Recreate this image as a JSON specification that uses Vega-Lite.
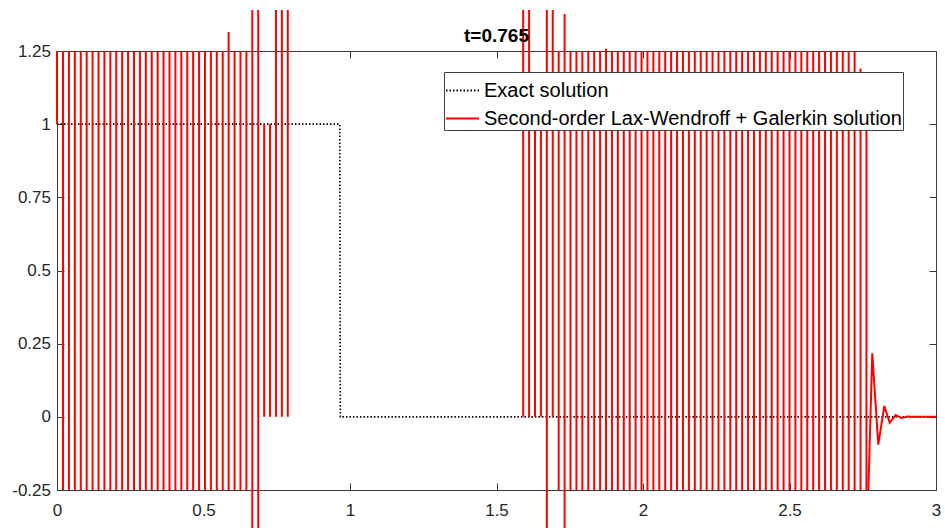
{
  "$schema": "https://vega.github.io/schema/vega-lite/v6.json",
  "width": 879,
  "height": 439,
  "autosize": "none",
  "padding": {"left": 57, "top": 51, "right": 9, "bottom": 38},
  "background": "white",
  "title": {"text": "t=0.765", "frame": "group", "anchor": "middle", "offset": -51.7, "baseline": "alphabetic", "font": "Liberation Sans", "fontSize": 19, "fontWeight": "bold", "color": "#000000"},
  "datasets": {
    "exact": [
      {"x": 0, "y": 1, "series": "Exact solution"},
      {"x": 0.965, "y": 1, "series": "Exact solution"},
      {"x": 0.967, "y": 0, "series": "Exact solution"},
      {"x": 3, "y": 0, "series": "Exact solution"}
    ],
    "tail": [
      {"x": 2.7626, "y": -0.48, "series": "Second-order Lax-Wendroff + Galerkin solution"},
      {"x": 2.7825, "y": 0.217, "series": "Second-order Lax-Wendroff + Galerkin solution"},
      {"x": 2.803, "y": -0.095, "series": "Second-order Lax-Wendroff + Galerkin solution"},
      {"x": 2.8235, "y": 0.037, "series": "Second-order Lax-Wendroff + Galerkin solution"},
      {"x": 2.842, "y": -0.02, "series": "Second-order Lax-Wendroff + Galerkin solution"},
      {"x": 2.8625, "y": 0.006, "series": "Second-order Lax-Wendroff + Galerkin solution"},
      {"x": 2.882, "y": -0.004, "series": "Second-order Lax-Wendroff + Galerkin solution"},
      {"x": 2.902, "y": 0.001, "series": "Second-order Lax-Wendroff + Galerkin solution"},
      {"x": 2.922, "y": 0, "series": "Second-order Lax-Wendroff + Galerkin solution"},
      {"x": 3, "y": 0, "series": "Second-order Lax-Wendroff + Galerkin solution"}
    ],
    "spikes": [
      {"x": 0, "lo": 1, "hi": 1.25},
      {"x": 0.0205, "lo": -0.25, "hi": 1.25},
      {"x": 0.0407, "lo": -0.25, "hi": 1.25},
      {"x": 0.0609, "lo": -0.25, "hi": 1.25},
      {"x": 0.0811, "lo": -0.25, "hi": 1.25},
      {"x": 0.1013, "lo": -0.25, "hi": 1.25},
      {"x": 0.1214, "lo": -0.25, "hi": 1.25},
      {"x": 0.1416, "lo": -0.25, "hi": 1.25},
      {"x": 0.1618, "lo": -0.25, "hi": 1.25},
      {"x": 0.182, "lo": -0.25, "hi": 1.25},
      {"x": 0.2022, "lo": -0.25, "hi": 1.25},
      {"x": 0.2224, "lo": -0.25, "hi": 1.25},
      {"x": 0.2426, "lo": -0.25, "hi": 1.25},
      {"x": 0.2628, "lo": -0.25, "hi": 1.25},
      {"x": 0.283, "lo": -0.25, "hi": 1.25},
      {"x": 0.3032, "lo": -0.25, "hi": 1.25},
      {"x": 0.3233, "lo": -0.25, "hi": 1.25},
      {"x": 0.3435, "lo": -0.25, "hi": 1.25},
      {"x": 0.3637, "lo": -0.25, "hi": 1.25},
      {"x": 0.3839, "lo": -0.25, "hi": 1.25},
      {"x": 0.4041, "lo": -0.25, "hi": 1.25},
      {"x": 0.4243, "lo": -0.25, "hi": 1.25},
      {"x": 0.4445, "lo": -0.25, "hi": 1.25},
      {"x": 0.4647, "lo": -0.25, "hi": 1.25},
      {"x": 0.4849, "lo": -0.25, "hi": 1.25},
      {"x": 0.5051, "lo": -0.25, "hi": 1.25},
      {"x": 0.5252, "lo": -0.25, "hi": 1.25},
      {"x": 0.5454, "lo": -0.25, "hi": 1.25},
      {"x": 0.5656, "lo": -0.25, "hi": 1.25},
      {"x": 0.5858, "lo": -0.25, "hi": 1.315},
      {"x": 0.606, "lo": -0.25, "hi": 1.25},
      {"x": 0.6262, "lo": -0.25, "hi": 1.25},
      {"x": 0.6464, "lo": -0.25, "hi": 1.25},
      {"x": 0.6666, "lo": -0.4, "hi": 1.39},
      {"x": 0.6868, "lo": -0.4, "hi": 1.39},
      {"x": 0.707, "lo": 0, "hi": 1},
      {"x": 0.7271, "lo": 0, "hi": 1},
      {"x": 0.7473, "lo": 0, "hi": 1.39},
      {"x": 0.7675, "lo": 0, "hi": 1.39},
      {"x": 0.7877, "lo": 0, "hi": 1.39},
      {"x": 1.591, "lo": 0, "hi": 1.39},
      {"x": 1.6112, "lo": 0, "hi": 1.39},
      {"x": 1.6314, "lo": 0, "hi": 1.1},
      {"x": 1.6516, "lo": 0, "hi": 1.1},
      {"x": 1.6718, "lo": -0.4, "hi": 1.39},
      {"x": 1.692, "lo": 0, "hi": 1.39},
      {"x": 1.7122, "lo": -0.25, "hi": 1.25},
      {"x": 1.7324, "lo": -0.4, "hi": 1.376},
      {"x": 1.7526, "lo": -0.25, "hi": 1.25},
      {"x": 1.7728, "lo": -0.25, "hi": 1.25},
      {"x": 1.793, "lo": -0.25, "hi": 1.25},
      {"x": 1.8132, "lo": -0.25, "hi": 1.25},
      {"x": 1.8334, "lo": -0.25, "hi": 1.25},
      {"x": 1.8536, "lo": -0.25, "hi": 1.25},
      {"x": 1.8738, "lo": -0.25, "hi": 1.258},
      {"x": 1.894, "lo": -0.25, "hi": 1.25},
      {"x": 1.9142, "lo": -0.25, "hi": 1.25},
      {"x": 1.9344, "lo": -0.25, "hi": 1.25},
      {"x": 1.9546, "lo": -0.25, "hi": 1.25},
      {"x": 1.9748, "lo": -0.25, "hi": 1.25},
      {"x": 1.995, "lo": -0.25, "hi": 1.25},
      {"x": 2.0152, "lo": -0.25, "hi": 1.25},
      {"x": 2.0354, "lo": -0.25, "hi": 1.25},
      {"x": 2.0556, "lo": -0.25, "hi": 1.25},
      {"x": 2.0758, "lo": -0.25, "hi": 1.25},
      {"x": 2.096, "lo": -0.25, "hi": 1.25},
      {"x": 2.1162, "lo": -0.25, "hi": 1.25},
      {"x": 2.1364, "lo": -0.25, "hi": 1.25},
      {"x": 2.1566, "lo": -0.25, "hi": 1.25},
      {"x": 2.1768, "lo": -0.25, "hi": 1.25},
      {"x": 2.197, "lo": -0.25, "hi": 1.25},
      {"x": 2.2172, "lo": -0.25, "hi": 1.25},
      {"x": 2.2374, "lo": -0.25, "hi": 1.25},
      {"x": 2.2576, "lo": -0.25, "hi": 1.25},
      {"x": 2.2778, "lo": -0.25, "hi": 1.25},
      {"x": 2.298, "lo": -0.25, "hi": 1.25},
      {"x": 2.3182, "lo": -0.25, "hi": 1.25},
      {"x": 2.3384, "lo": -0.25, "hi": 1.25},
      {"x": 2.3586, "lo": -0.25, "hi": 1.25},
      {"x": 2.3788, "lo": -0.25, "hi": 1.25},
      {"x": 2.399, "lo": -0.25, "hi": 1.25},
      {"x": 2.4192, "lo": -0.25, "hi": 1.25},
      {"x": 2.4394, "lo": -0.25, "hi": 1.25},
      {"x": 2.4596, "lo": -0.25, "hi": 1.25},
      {"x": 2.4798, "lo": -0.25, "hi": 1.25},
      {"x": 2.5, "lo": -0.25, "hi": 1.25},
      {"x": 2.5202, "lo": -0.25, "hi": 1.25},
      {"x": 2.5404, "lo": -0.25, "hi": 1.25},
      {"x": 2.5606, "lo": -0.25, "hi": 1.25},
      {"x": 2.5808, "lo": -0.25, "hi": 1.25},
      {"x": 2.601, "lo": -0.25, "hi": 1.25},
      {"x": 2.6212, "lo": -0.25, "hi": 1.25},
      {"x": 2.6414, "lo": -0.25, "hi": 1.25},
      {"x": 2.6616, "lo": -0.25, "hi": 1.25},
      {"x": 2.6818, "lo": -0.25, "hi": 1.25},
      {"x": 2.702, "lo": -0.25, "hi": 1.25},
      {"x": 2.7222, "lo": -0.25, "hi": 1.25},
      {"x": 2.7424, "lo": -0.25, "hi": 1.19},
      {"x": 2.7626, "lo": -0.25, "hi": 1.15}
    ]
  },
  "layer": [
    {
      "data": {"name": "exact"},
      "mark": {"type": "line", "clip": true, "strokeWidth": 1.6},
      "encoding": {
        "x": {"field": "x", "type": "quantitative", "scale": {"domain": [0, 3], "nice": false, "zero": false},
              "axis": {"orient": "bottom", "values": [0, 0.5, 1, 1.5, 2, 2.5, 3], "labelPadding": 19, "title": null, "labelExpr": "format(datum.value, '~g')"}},
        "y": {"field": "y", "type": "quantitative", "scale": {"domain": [-0.25, 1.25], "nice": false, "zero": false},
              "axis": {"orient": "left", "values": [-0.25, 0, 0.25, 0.5, 0.75, 1, 1.25], "labelPadding": 13.5, "title": null, "labelExpr": "replace(format(datum.value, '~g'), '−', '-')"}},
        "color": {"field": "series", "type": "nominal",
                  "scale": {"domain": ["Exact solution", "Second-order Lax-Wendroff + Galerkin solution"], "range": ["#000000", "#ff0000"]},
                  "legend": {"title": null, "orient": "none", "legendX": 387, "legendY": 21, "symbolType": "stroke", "symbolSize": 1089, "symbolStrokeWidth": 2, "labelFont": "Liberation Sans", "labelFontSize": 20, "labelColor": "#000000", "labelLimit": 700, "labelOffset": 4, "padding": 1, "rowPadding": -3, "fillColor": "#ffffff", "strokeColor": "#404040", "zindex": 1}},
        "strokeDash": {"field": "series", "type": "nominal",
                  "scale": {"domain": ["Exact solution", "Second-order Lax-Wendroff + Galerkin solution"], "range": [[1.5, 2], [1, 0]]},
                  "legend": {"title": null, "orient": "none", "legendX": 387, "legendY": 21, "symbolType": "stroke", "symbolSize": 1089, "symbolStrokeWidth": 2, "labelFont": "Liberation Sans", "labelFontSize": 20, "labelColor": "#000000", "labelLimit": 700, "labelOffset": 4, "padding": 1, "rowPadding": -3, "fillColor": "#ffffff", "strokeColor": "#404040", "zindex": 1}}
      }
    },
    {
      "data": {"name": "spikes"},
      "mark": {"type": "rule", "color": "#ff0000", "strokeWidth": 2, "clip": false},
      "encoding": {
        "x": {"field": "x", "type": "quantitative", "scale": {"domain": [0, 3], "nice": false, "zero": false}, "axis": null},
        "y": {"field": "lo", "type": "quantitative", "scale": {"domain": [-0.25, 1.25], "nice": false, "zero": false}, "axis": null},
        "y2": {"field": "hi"}
      }
    },
    {
      "data": {"name": "tail"},
      "mark": {"type": "line", "clip": true, "strokeWidth": 2},
      "encoding": {
        "x": {"field": "x", "type": "quantitative", "scale": {"domain": [0, 3], "nice": false, "zero": false},
              "axis": {"orient": "top", "values": [0, 0.5, 1, 1.5, 2, 2.5, 3], "labels": false, "title": null}},
        "y": {"field": "y", "type": "quantitative", "scale": {"domain": [-0.25, 1.25], "nice": false, "zero": false},
              "axis": {"orient": "right", "values": [-0.25, 0, 0.25, 0.5, 0.75, 1, 1.25], "labels": false, "title": null}},
        "color": {"field": "series", "type": "nominal",
                  "scale": {"domain": ["Exact solution", "Second-order Lax-Wendroff + Galerkin solution"], "range": ["#000000", "#ff0000"]},
                  "legend": {"title": null, "orient": "none", "legendX": 387, "legendY": 21, "symbolType": "stroke", "symbolSize": 1089, "symbolStrokeWidth": 2, "labelFont": "Liberation Sans", "labelFontSize": 20, "labelColor": "#000000", "labelLimit": 700, "labelOffset": 4, "padding": 1, "rowPadding": -3, "fillColor": "#ffffff", "strokeColor": "#404040", "zindex": 1}},
        "strokeDash": {"field": "series", "type": "nominal",
                  "scale": {"domain": ["Exact solution", "Second-order Lax-Wendroff + Galerkin solution"], "range": [[1.5, 2], [1, 0]]},
                  "legend": {"title": null, "orient": "none", "legendX": 387, "legendY": 21, "symbolType": "stroke", "symbolSize": 1089, "symbolStrokeWidth": 2, "labelFont": "Liberation Sans", "labelFontSize": 20, "labelColor": "#000000", "labelLimit": 700, "labelOffset": 4, "padding": 1, "rowPadding": -3, "fillColor": "#ffffff", "strokeColor": "#404040", "zindex": 1}}
      }
    }
  ],
  "resolve": {"axis": {"x": "independent", "y": "independent"}},
  "config": {
    "view": {"stroke": null},
    "font": "Liberation Sans",
    "axis": {
      "domainColor": "#3a3a3a",
      "tickColor": "#3a3a3a",
      "labelColor": "#262626",
      "labelFont": "Liberation Sans",
      "labelFontSize": 17,
      "tickSize": -7,
      "grid": false,
      "domainWidth": 1,
      "tickWidth": 1,
      "labelFlush": false
    }
  }
}
